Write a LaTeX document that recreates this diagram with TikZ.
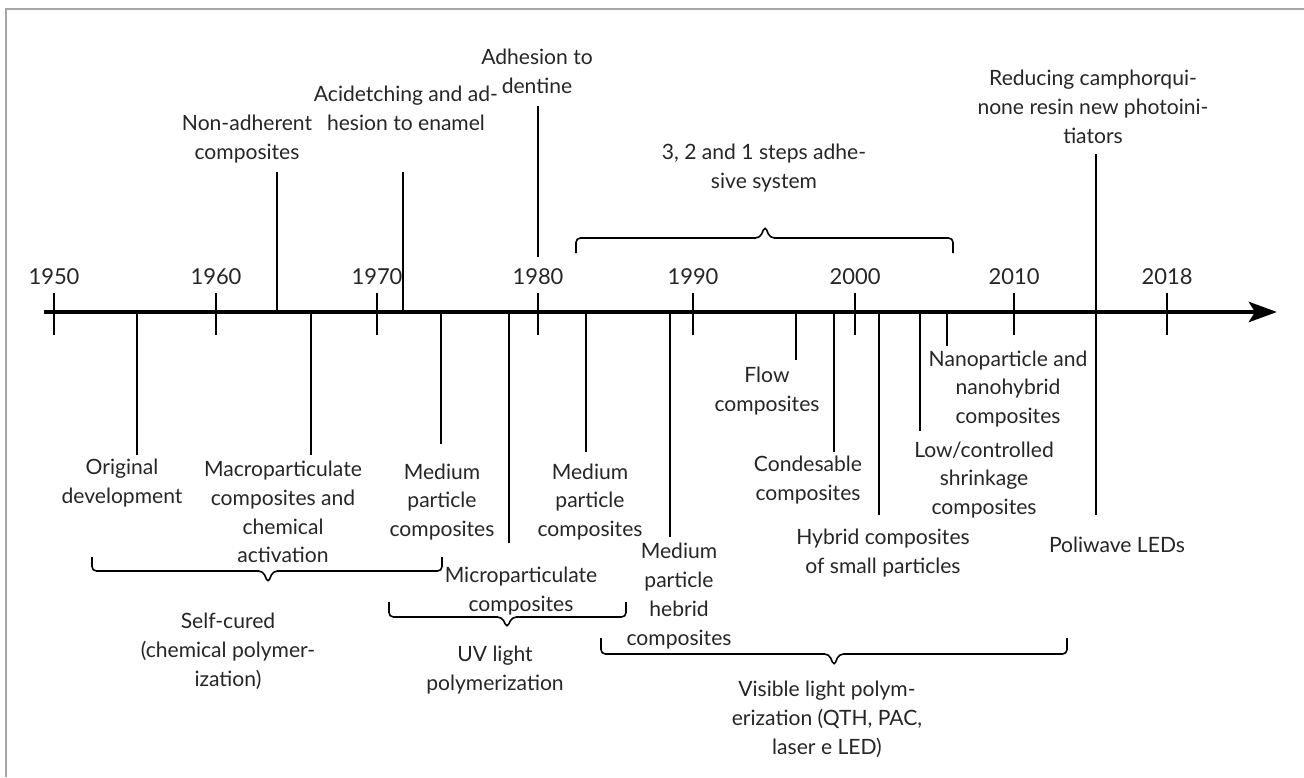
\documentclass[tikz,border=0pt]{standalone}
\usepackage{fontspec}
\setmainfont{Lato}
\usepackage{tikz}
\usetikzlibrary{arrows.meta}
\tikzstyle{lbl} = [align=center, inner sep=0pt, text=black!85, font=\fontsize{12}{16.4}\selectfont]
\tikzstyle{year} = [lbl, font=\fontsize{12.5}{15}\selectfont]
\tikzstyle{axis} = [line width=2.8pt, -{Stealth[length=0.56cm, width=0.4cm, inset=0.12cm]}]
\tikzstyle{tick} = [line width=1.4pt]
\tikzstyle{evt} = [line width=0.8pt]
\tikzstyle{bracket} = [line width=0.9pt, rounded corners=2.5pt]

\begin{document}
\begin{tikzpicture}[x=0.02cm, y=-0.02cm]
		\useasboundingbox (0,0) rectangle (1304,777);
		%frame
		\draw[gray!70, line width=0.7pt] (6,777) -- (6,9) -- (1304,9);

		%time axis
		\draw[axis] (44,312) -- (1277,312);
		\foreach \yr/\px in {1950/54, 1960/216, 1970/377, 1980/538, 1990/693, 2000/855, 2010/1014, 2018/1167} {
			\node[year] (y_\yr) at (\px,277) {\yr};
			\draw[tick] (\px,293) -- (\px,335);
		}

		%above the axis
		\node[lbl] (a_nonadh) at (247,139) {Non-adherent\\composites};
		\node[lbl] (a_acid) at (406,108) {Acidetching and ad-\\hesion to enamel};
		\node[lbl] (a_dentine) at (537,71) {Adhesion to\\dentine};
		\node[lbl] (a_steps) at (764,168) {3, 2 and 1 steps adhe-\\sive system};
		\node[lbl] (a_camphor) at (1093,107) {Reducing camphorqui-\\none resin new photoini-\\tiators};

		\draw[evt] (277,312) -- (277,172);
		\draw[evt] (403,312) -- (403,172);
		\draw[evt] (538,257) -- (538,106);
		\draw[evt] (1096,154) -- (1096,515);

		%below the axis
		\node[lbl] (b_orig) at (122,483) {Original\\development};
		\node[lbl] (b_macro) at (283,512) {Macroparticulate\\composites and\\chemical\\activation};
		\node[lbl] (b_med1) at (442,502) {Medium\\particle\\composites};
		\node[lbl] (b_micro) at (521,591) {Microparticulate\\composites};
		\node[lbl] (b_med2) at (590,502) {Medium\\particle\\composites};
		\node[lbl] (b_hebrid) at (679,596) {Medium\\particle\\hebrid\\composites};
		\node[lbl] (b_flow) at (767,391) {Flow\\composites};
		\node[lbl] (b_condes) at (808,480) {Condesable\\composites};
		\node[lbl] (b_hybrid) at (883,553) {Hybrid composites\\of small particles};
		\node[lbl] (b_low) at (984,480) {Low/controlled\\shrinkage\\composites};
		\node[lbl] (b_nano) at (1008,389) {Nanoparticle and\\nanohybrid\\composites};
		\node[lbl] (b_poli) at (1117,545) {Poliwave LEDs};

		\draw[evt] (137,312) -- (137,455);
		\draw[evt] (311,312) -- (311,455);
		\draw[evt] (441,312) -- (441,444);
		\draw[evt] (509,312) -- (509,543);
		\draw[evt] (586,312) -- (586,452);
		\draw[evt] (670,312) -- (670,537);
		\draw[evt] (796,312) -- (796,360);
		\draw[evt] (834,312) -- (834,452);
		\draw[evt] (879,312) -- (879,515);
		\draw[evt] (920,312) -- (920,431);
		\draw[evt] (947,312) -- (947,346);

		%periods
		\draw[bracket] (576,253) -- (576,238) -- (760,238) -- (765,226) -- (770,238) -- (953,238) -- (953,253);
		\draw[bracket] (92,557) -- (92,571) -- (263,571) -- (268,583) -- (273,571) -- (442,571) -- (442,557);
		\draw[bracket] (389,602) -- (389,617) -- (502,617) -- (507,628) -- (512,617) -- (626,617) -- (626,602);
		\draw[bracket] (601,638) -- (601,654) -- (829,654) -- (834,666) -- (839,654) -- (1067,654) -- (1067,638);

		\node[lbl] (p_self) at (228,651) {Self-cured\\(chemical polymer-\\ization)};
		\node[lbl] (p_uv) at (495,670) {UV light\\polymerization};
		\node[lbl] (p_vis) at (827,719) {Visible light polym-\\erization (QTH, PAC,\\laser e LED)};

	\end{tikzpicture}
\end{document}
